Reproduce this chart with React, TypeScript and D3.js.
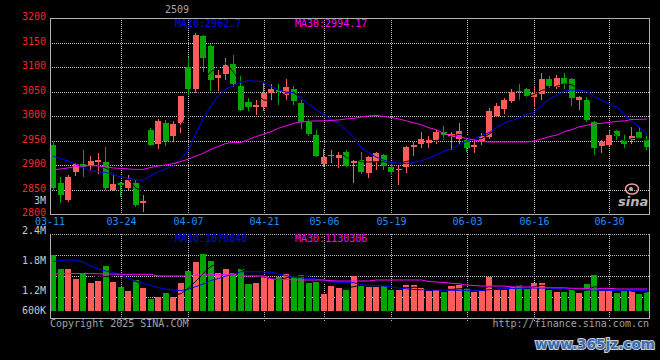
import * as d3 from "d3";

const width = 660;
const height = 360;

const dates = [
  "03-11", "03-12", "03-13", "03-14", "03-17", "03-18", "03-19", "03-20", "03-21", "03-24",
  "03-25", "03-26", "03-27", "03-28", "03-31", "04-01", "04-02", "04-03", "04-07", "04-08",
  "04-09", "04-10", "04-11", "04-14", "04-15", "04-16", "04-17", "04-18", "04-21", "04-22",
  "04-23", "04-24", "04-25", "04-28", "04-29", "04-30", "05-06", "05-07", "05-08", "05-09",
  "05-12", "05-13", "05-14", "05-15", "05-16", "05-19", "05-20", "05-21", "05-22", "05-23",
  "05-26", "05-27", "05-28", "05-29", "05-30", "06-03", "06-04", "06-05", "06-06", "06-09",
  "06-10", "06-11", "06-12", "06-13", "06-16", "06-17", "06-18", "06-19", "06-20", "06-23",
  "06-24", "06-25", "06-26", "06-27", "06-30", "07-01", "07-02", "07-03", "07-04", "07-07",
];

const open = [
  2941, 2863, 2829, 2886, 2902, 2899, 2906, 2906, 2849, 2863,
  2854, 2863, 2823, 2972, 2942, 2986, 2960, 2985, 3100, 3055,
  3163, 3143, 3078, 3086, 3106, 3061, 3029, 3019, 3018, 3047,
  3053, 3043, 3055, 3027, 2987, 2961, 2902, 2919, 2914, 2927,
  2905, 2910, 2884, 2906, 2921, 2896, 2890, 2896, 2936, 2943,
  2945, 2951, 2967, 2957, 2953, 2951, 2937, 2950, 2957, 3000,
  3014, 3031, 3052, 3055, 3039, 3045, 3076, 3059, 3078, 3076,
  3033, 3033, 2988, 2939, 2941, 2970, 2951, 2951, 2967, 2951,
];
const high = [
  2946, 2876, 2880, 2905, 2931, 2919, 2924, 2937, 2880, 2865,
  2879, 2870, 2839, 2975, 2994, 2992, 2989, 3041, 3120, 3169,
  3165, 3147, 3094, 3118, 3124, 3082, 3036, 3033, 3067, 3065,
  3065, 3076, 3061, 3033, 2994, 2972, 2933, 2931, 2927, 2931,
  2910, 2927, 2919, 2927, 2923, 2900, 2897, 2939, 2947, 2967,
  2959, 2972, 2980, 2967, 2986, 2955, 2953, 2965, 3016, 3027,
  3037, 3055, 3065, 3057, 3061, 3088, 3082, 3084, 3088, 3078,
  3041, 3039, 2990, 2951, 2970, 2972, 2961, 2978, 2978, 2959,
];
const low = [
  2849, 2822, 2825, 2878, 2876, 2889, 2882, 2849, 2846, 2834,
  2848, 2815, 2805, 2939, 2933, 2938, 2946, 2965, 3042, 3047,
  3090, 3051, 3051, 3074, 3060, 3010, 3010, 3002, 3010, 3031,
  3023, 3033, 3023, 2974, 2959, 2916, 2896, 2904, 2893, 2896,
  2863, 2882, 2874, 2889, 2890, 2880, 2859, 2884, 2919, 2935,
  2935, 2943, 2951, 2931, 2943, 2927, 2925, 2941, 2953, 2998,
  3004, 3027, 3031, 3037, 3018, 3033, 3057, 3055, 3055, 3021,
  3012, 2988, 2921, 2925, 2939, 2951, 2935, 2943, 2953, 2931,
];
const close = [
  2854, 2838, 2876, 2902, 2896, 2908, 2910, 2854, 2862, 2860,
  2869, 2819, 2827, 2941, 2990, 2950, 2984, 3041, 3055, 3165,
  3118, 3074, 3084, 3104, 3065, 3012, 3018, 3022, 3047, 3055,
  3050, 3059, 3031, 2987, 2963, 2919, 2916, 2921, 2921, 2898,
  2908, 2886, 2917, 2925, 2898, 2885, 2892, 2936, 2941, 2953,
  2951, 2967, 2961, 2963, 2970, 2935, 2941, 2959, 3010, 3021,
  3033, 3049, 3050, 3041, 3047, 3076, 3061, 3078, 3065, 3037,
  3039, 2992, 2935, 2947, 2961, 2959, 2943, 2959, 2953, 2937,
];

// moving averages (they reach back before 03-11)
const ma10 = [
  2918, 2913, 2908, 2902, 2895, 2888, 2886, 2885, 2880, 2876,
  2873, 2870, 2869, 2878, 2886, 2892, 2898, 2912, 2930, 2965,
  2995, 3020, 3042, 3055, 3062, 3069, 3072, 3071, 3070, 3060,
  3053, 3049, 3047, 3036, 3025, 3013, 3003, 2993, 2985, 2970,
  2955, 2935, 2925, 2916, 2910, 2905, 2904, 2903, 2905, 2909,
  2914, 2921, 2928, 2933, 2941, 2948, 2952, 2960, 2966, 2976,
  2986, 2991, 2996, 3003, 3008, 3022, 3034, 3042, 3051, 3053,
  3053, 3050, 3040, 3032, 3024, 3018, 3003, 2990, 2977, 2963,
];
const ma30 = [
  2890, 2892, 2894, 2897, 2898, 2899, 2898, 2896, 2894, 2893,
  2892, 2891, 2891, 2895, 2898, 2900, 2903, 2907, 2912, 2918,
  2924, 2932, 2938, 2944, 2946, 2946, 2952, 2958, 2963, 2968,
  2975, 2980, 2985, 2988, 2989, 2990, 2990, 2991, 2992, 2994,
  2995, 2998, 3000, 3001, 2999, 2997, 2994, 2990, 2986, 2982,
  2976, 2972, 2964, 2960, 2958, 2954, 2951, 2948, 2947, 2947,
  2947, 2947, 2947, 2947, 2949, 2953, 2958, 2961, 2968, 2972,
  2978, 2981, 2984, 2985, 2987, 2989, 2990, 2993, 2993, 2994,
];

// volume in thousands
const volume = [
  1800, 1520, 1520, 1320, 1434, 1240, 1280, 1586, 1260, 1160,
  1080, 1300, 1140, 920, 960, 1040, 960, 1240, 1480, 1660,
  1820, 1686, 1440, 1520, 1440, 1520, 1220, 1240, 1380, 1320,
  1360, 1420, 1380, 1400, 1240, 1260, 1020, 1190, 1140, 1100,
  1380, 1180, 1160, 1160, 1180, 1100, 1100, 1200, 1200, 1140,
  1080, 1100, 1060, 1180, 1200, 1140, 1060, 1080, 1360, 1100,
  1100, 1180, 1200, 1120, 1240, 1240, 1100, 1060, 1060, 1100,
  1040, 1220, 1400, 1080, 1080, 1040, 1080, 1080, 1020, 1060,
];
const volMa10 = [
  1666, 1690, 1700, 1695, 1660, 1580, 1520, 1480, 1450, 1400,
  1334, 1280, 1234, 1190, 1146, 1120, 1095, 1090, 1114, 1170,
  1220, 1290, 1330, 1380, 1410, 1466, 1466, 1465, 1462, 1455,
  1420, 1390, 1354, 1345, 1334, 1320, 1300, 1260, 1255, 1250,
  1246, 1205, 1195, 1185, 1180, 1160, 1140, 1125, 1110, 1105,
  1100, 1098, 1096, 1094, 1094, 1094, 1094, 1094, 1105, 1118,
  1125, 1130, 1135, 1140, 1140, 1138, 1135, 1130, 1126, 1120,
  1110, 1104, 1100, 1095, 1090, 1086, 1086, 1088, 1090, 1090,
];
const volMa30 = [
  1420, 1425, 1430, 1430, 1430, 1428, 1425, 1420, 1418, 1414,
  1414, 1414, 1414, 1414, 1380, 1380, 1380, 1380, 1380, 1400,
  1400, 1406, 1406, 1406, 1406, 1380, 1380, 1380, 1380, 1320,
  1315, 1310, 1305, 1300, 1300, 1300, 1300, 1286, 1280, 1280,
  1280, 1280, 1280, 1300, 1300, 1300, 1300, 1300, 1300, 1300,
  1270, 1260, 1250, 1235, 1225, 1200, 1190, 1180, 1180, 1180,
  1180, 1160, 1160, 1160, 1160, 1145, 1145, 1145, 1145, 1134,
  1134, 1134, 1114, 1134, 1134, 1120, 1120, 1120, 1120, 1120,
];

const priceTicks = [3200, 3150, 3100, 3050, 3000, 2950, 2900, 2850, 2800];
const volTicks = [3000, 2400, 1800, 1200, 600];
const volTickLabels = ["3M", "2.4M", "1.8M", "1.2M", "600K"];
const dateTicks = ["03-11", "03-24", "04-07", "04-21", "05-06", "05-19", "06-03", "06-16", "06-30"];

const RED = "#ff5b5b";
const GREEN = "#00a800";
const GRID = "#bdbdbd";
const MONO = "DejaVu Sans Mono, monospace";

const left = 50;
const right = 649.5;
const priceTop = 18;
const priceBottom = 214;
const volTop = 234;
const volBottom = 318;
const volBase = 311;

const movingAvg = (arr: number[], n: number) =>
  arr.map((_, i) => (i < n - 1 ? null : d3.mean(arr.slice(i - n + 1, i + 1)) as number));

const App = () => {
  const idx = d3.range(dates.length);
  const x = d3.scaleBand<number>().domain(idx).range([left, 650]).paddingInner(0.2);
  const bw = x.bandwidth();
  const cx = (i: number) => (x(i) as number) + bw / 2;
  const y = d3.scaleLinear().domain([2800, 3200]).range([priceBottom, priceTop]);
  const vy = d3.scaleLinear().domain([0, 2400]).range([345, 225]);
  const volGrid = d3.scaleLinear().domain([0, 4]).range([volTop, volBottom]);

  const priceLine = d3
    .line<number | null>()
    .defined((d) => d != null)
    .x((_, i) => cx(i))
    .y((d) => y(d as number));
  const volLine = d3
    .line<number | null>()
    .defined((d) => d != null)
    .x((_, i) => cx(i))
    .y((d) => vy(d as number));

  const ma5 = movingAvg(close, 5);
  const volMa5 = movingAvg(volume, 5);

  const gridX = dateTicks.slice(1).map((d) => Math.round(cx(dates.indexOf(d))) + 0.5);

  return (
    <div style={{ position: "absolute", left: 0, top: 0 }}>
      <svg width={width} height={height} style={{ display: "block", background: "#000" }}>
        <rect width={width} height={height} fill="#000" />

        {/* price grid */}
        {priceTicks.slice(1, -1).map((t) => (
          <line key={t} x1={left} x2={right} y1={Math.round(y(t)) + 0.5} y2={Math.round(y(t)) + 0.5}
            stroke={GRID} strokeDasharray="1,1" />
        ))}
        {gridX.map((gx) => (
          <line key={"pg" + gx} x1={gx} x2={gx} y1={priceTop} y2={priceBottom} stroke={GRID} strokeDasharray="1,1" />
        ))}

        {/* volume grid */}
        {[1, 2, 3].map((k) => (
          <line key={"vg" + k} x1={left} x2={right} y1={Math.round(volGrid(k)) + 0.5} y2={Math.round(volGrid(k)) + 0.5}
            stroke={GRID} strokeDasharray="1,1" />
        ))}
        {gridX.map((gx) => (
          <line key={"vgx" + gx} x1={gx} x2={gx} y1={volTop} y2={volBottom + 4} stroke={GRID} strokeDasharray="1,1" />
        ))}

        {/* candles */}
        {idx.map((i) => {
          const up = close[i] >= open[i];
          const col = up ? RED : GREEN;
          const top = y(Math.max(open[i], close[i]));
          const bot = y(Math.min(open[i], close[i]));
          return (
            <g key={"c" + i} shapeRendering="crispEdges">
              <line x1={Math.floor(cx(i)) + 0.5} x2={Math.floor(cx(i)) + 0.5} y1={y(high[i])} y2={y(low[i])} stroke={col} />
              <rect x={x(i)} y={top} width={bw} height={Math.max(1, bot - top)} fill={col} />
            </g>
          );
        })}

        <path d={priceLine(ma5) || ""} fill="none" stroke="#000" strokeWidth={1} />
        <path d={priceLine(ma10) || ""} fill="none" stroke="#0000ff" strokeWidth={1} />
        <path d={priceLine(ma30) || ""} fill="none" stroke="#ff00ff" strokeWidth={1} />

        {/* volume bars */}
        {idx.map((i) => (
          <rect key={"v" + i} x={x(i)} y={vy(volume[i])} width={bw} height={volBase - vy(volume[i])}
            fill={close[i] >= open[i] ? RED : GREEN} shapeRendering="crispEdges" />
        ))}
        <path d={volLine(volMa5) || ""} fill="none" stroke="#000" strokeWidth={1} />
        <path d={volLine(volMa10) || ""} fill="none" stroke="#0000ff" strokeWidth={1} />
        <path d={volLine(volMa30) || ""} fill="none" stroke="#ff00ff" strokeWidth={1} />

        {/* frames */}
        <g fill="none" stroke="#b0b0b0" shapeRendering="crispEdges">
          <rect x={left} y={priceTop} width={right - left} height={priceBottom - priceTop} />
          <line x1={left} x2={right} y1={volTop} y2={volTop} strokeDasharray="1,1" />
          <line x1={left} x2={left} y1={volTop} y2={volBottom} />
          <line x1={right} x2={right} y1={volTop} y2={volBottom} />
          <line x1={left} x2={right} y1={volBottom} y2={volBottom} />
        </g>

        {/* sina logo */}
        <g>
          <ellipse cx={632} cy={189} rx={6.5} ry={5} fill="none" stroke="#f2a0a0" strokeWidth={1.5} />
          <circle cx={631} cy={189} r={2} fill="#b0b0b0" />
          <text x={618} y={206} fontFamily="DejaVu Sans, sans-serif" fontWeight="bold" fontStyle="italic"
            fontSize={13} fill="#b8b8b8">sina</text>
        </g>

        <g fontFamily={MONO} fontSize={10}>
          <text x={177} y={10} textAnchor="middle" dominantBaseline="middle" fill="#a8a8a8">2509</text>
          {priceTicks.map((t) => (
            <text key={"pt" + t} x={46} y={y(t) - 1} textAnchor="end" dominantBaseline="middle" fill="#ff2020">{t}</text>
          ))}
          {volTicks.map((t, k) => (
            <text key={"vt" + t} x={46} y={Math.min(vy(t) + 6, volBase)} textAnchor="end" dominantBaseline="middle"
              fill="#c8c8c8">{volTickLabels[k]}</text>
          ))}
          {dateTicks.map((d, k) => (
            <text key={"dt" + d} x={k === 0 ? left : gridX[k - 1]} y={222} textAnchor="middle"
              dominantBaseline="middle" fill="#1e8fff">{d}</text>
          ))}
          <text x={175} y={24} dominantBaseline="middle" fill="#0000ff">MA10:2962.7</text>
          <text x={295} y={24} dominantBaseline="middle" fill="#ff00ff">MA30:2994.17</text>
          <text x={175} y={238.5} dominantBaseline="middle" fill="#0000ff">MA10:1070840</text>
          <text x={295} y={238.5} dominantBaseline="middle" fill="#ff00ff">MA30:1130306</text>
          <text x={50} y={323.5} dominantBaseline="middle" fill="#a0a0a0">Copyright 2025 SINA.COM</text>
          <text x={649} y={323.5} textAnchor="end" dominantBaseline="middle" fill="#a0a0a0">http://finance.sina.com.cn</text>
        </g>

        <text x={535} y={349} fontFamily="DejaVu Sans, sans-serif" fontWeight="bold" fontSize={14}
          textLength={120} lengthAdjust="spacingAndGlyphs" fill="#3e6aa8" stroke="#c8d0da" strokeWidth={2}
          paintOrder="stroke">www.365jz.com</text>
      </svg>
    </div>
  );
};

export default App;
